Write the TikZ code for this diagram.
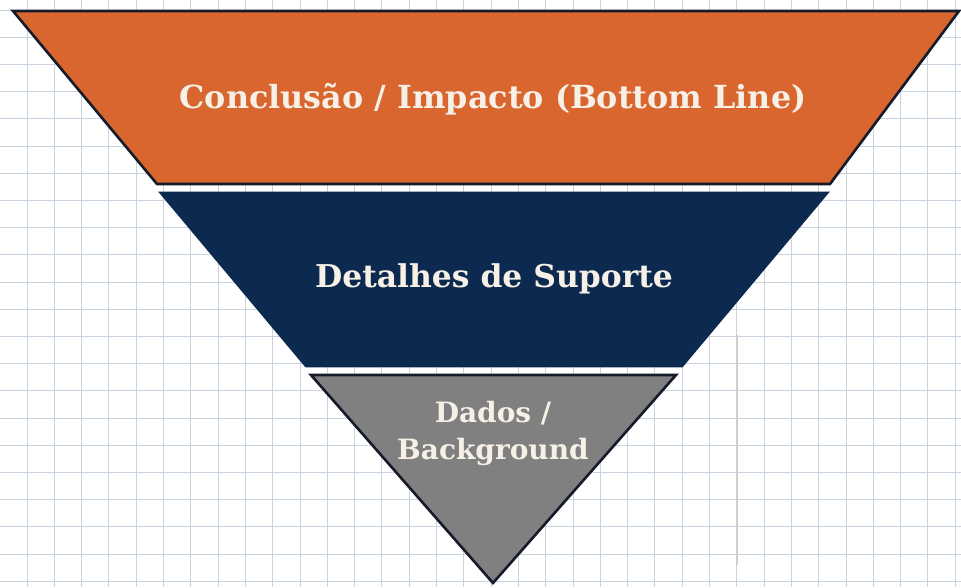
\documentclass[tikz,border=0pt]{standalone}
\usepackage{fontspec}
\setmainfont{DejaVu Serif}
\definecolor{gridc}{HTML}{C9D3DF}
\definecolor{tanc}{HTML}{D6C8B4}
\definecolor{orangec}{HTML}{D9652F}
\definecolor{navyc}{HTML}{0C2A50}
\definecolor{grayc}{HTML}{808080}
\definecolor{edgec}{HTML}{151B2A}
\definecolor{textc}{HTML}{F6F0E6}
\tikzset{
  band/.style={draw=edgec, line width=2.6pt, line join=miter},
  lbl/.style={text=textc, align=center, inner sep=0pt},
}
\begin{document}
\begin{tikzpicture}[x=1pt,y=-1pt]
\useasboundingbox (0,0) rectangle (961,587);
\fill[white] (0,0) rectangle (961,587);
% grid
\foreach \i in {0,...,34} {
  \draw[gridc, line width=1pt] ({27+27.3*\i},0) -- ({27+27.3*\i},587);
}
\foreach \j in {0,...,21} {
  \draw[gridc, line width=1pt] (0,{10+27.2*\j}) -- (961,{10+27.2*\j});
}
\draw[tanc, line width=1pt] (737,335) -- (737,565);
% bands
\path[band, fill=orangec] (13,11) -- (959,11) -- (830,184) -- (157,184) -- cycle;
\path[band, draw=navyc, fill=navyc] (161,193) -- (827,193) -- (682,366) -- (306,366) -- cycle;
\path[band, fill=grayc] (311,375) -- (676,375) -- (493,583) -- cycle;
% labels
\node[lbl, font=\bfseries\fontsize{31.8}{38}\selectfont] (top) at (493,99) {Conclusão / Impacto (Bottom Line)};
\node[lbl, font=\bfseries\fontsize{31.4}{38}\selectfont] (mid) at (494,279) {Detalhes de Suporte};
\node[lbl, font=\bfseries\fontsize{28}{37}\selectfont] (bot) at (493,433) {Dados /\\Background};
\end{tikzpicture}
\end{document}
